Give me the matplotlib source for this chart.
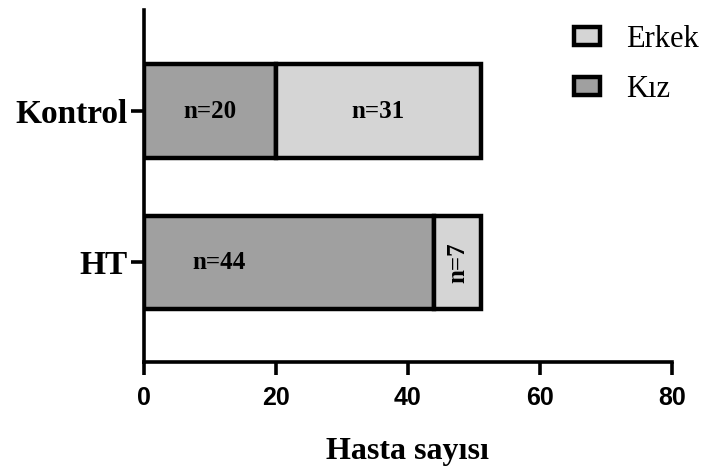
import matplotlib
matplotlib.use("Agg")
import matplotlib.pyplot as plt
from matplotlib.patches import Patch

# data
groups = ["HT", "Kontrol"]
kiz = [44, 20]
erkek = [7, 31]
xticks = [0, 20, 40, 60, 80]

kiz_color = "#a0a0a0"
erkek_color = "#d5d5d5"

fig = plt.figure(figsize=(7.11, 4.74), dpi=100)
ax = fig.add_axes([0.2025, 0.236, 0.7425, 0.743])

y = range(len(groups))
ax.barh(y, kiz, height=0.62, color=kiz_color, edgecolor="black", linewidth=3.2)
ax.barh(y, erkek, left=kiz, height=0.62, color=erkek_color, edgecolor="black", linewidth=3.2)

# segment labels
serif_bold = dict(family="Liberation Serif", fontweight="bold", fontsize=18)
ax.text(kiz[1] / 2, 1, f"n={kiz[1]}", ha="center", va="center", **serif_bold)
ax.text(kiz[1] + erkek[1] / 2, 1, f"n={erkek[1]}", ha="center", va="center", **serif_bold)
ax.text(kiz[0] * 0.26, 0, f"n={kiz[0]}", ha="center", va="center", **serif_bold)
ax.text(kiz[0] + erkek[0] / 2, 0, f"n={erkek[0]}", ha="center", va="center",
        rotation=90, **serif_bold)

ax.set_xlim(0, 80)
ax.set_ylim(-0.66, 1.67)
ax.set_xticks(xticks)
ax.set_xticklabels([str(v) for v in xticks], family="Liberation Sans",
                   fontweight="bold", fontsize=18)
ax.set_yticks(list(y))
ax.set_yticklabels(groups, family="Liberation Serif", fontweight="bold", fontsize=24)
ax.tick_params(axis="both", length=9.5, width=2.6, direction="out")
ax.tick_params(axis="y", pad=2)
ax.tick_params(axis="x", pad=8)

for s in ["top", "right"]:
    ax.spines[s].set_visible(False)
for s in ["left", "bottom"]:
    ax.spines[s].set_linewidth(2.6)

ax.set_xlabel("Hasta sayısı", family="Liberation Serif", fontweight="bold",
              fontsize=23)
ax.xaxis.set_label_coords(0.5, -0.213)

handles = [
    Patch(facecolor=erkek_color, edgecolor="black", linewidth=3.2, label="Erkek"),
    Patch(facecolor=kiz_color, edgecolor="black", linewidth=3.2, label="Kız"),
]
fig.legend(handles=handles, loc="upper left", bbox_to_anchor=(0.769, 1.006),
           frameon=False, prop=dict(family="Liberation Serif", size=22),
           handlelength=0.85, handleheight=0.55, labelspacing=0.7, handletextpad=0.85)

fig.savefig("out.png", dpi=100)
